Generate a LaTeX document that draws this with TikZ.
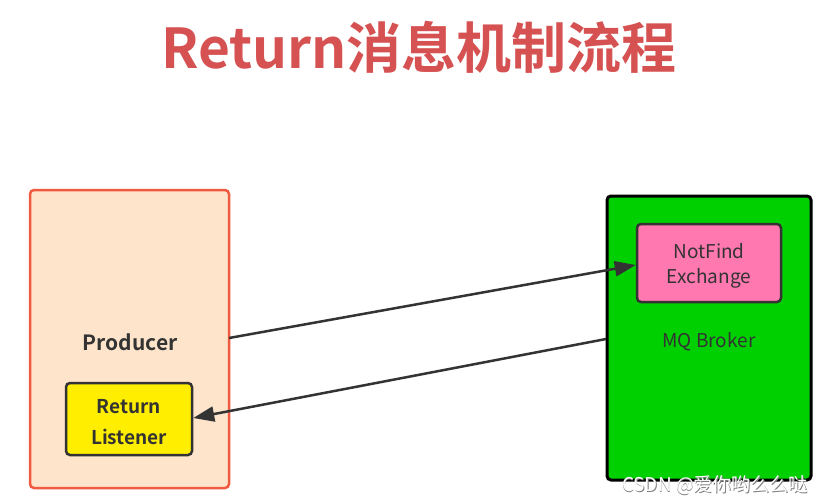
\documentclass[tikz,border=0pt]{standalone}
\usepackage{fontspec}
\setmainfont{Noto Sans CJK SC}
\newfontfamily\cjkbold{Noto Sans CJK SC Bold}
\usetikzlibrary{arrows.meta}
\definecolor{titlered}{HTML}{D65252}
\definecolor{peach}{HTML}{FDE4CA}
\definecolor{peachedge}{HTML}{F05A40}
\definecolor{ylw}{HTML}{FFEE00}
\definecolor{brgreen}{HTML}{00D000}
\definecolor{pinkbox}{HTML}{FF78B0}
\definecolor{darkline}{HTML}{333333}
\tikzset{
  outerbox/.style={draw, rounded corners=4pt, line width=2.5pt},
  innerbox/.style={draw=darkline, rounded corners=4pt, line width=2.5pt},
  lbl/.style={font=\fontsize{19}{24}\selectfont, text=darkline, align=center},
  blbl/.style={font=\cjkbold\fontsize{19}{31}\selectfont, text=darkline, align=center},
  conn/.style={draw=darkline, line width=2.5pt, -{Triangle[length=21pt,width=15pt]}}
}
\begin{document}
\begin{tikzpicture}[x=1pt,y=-1pt]
\useasboundingbox[fill=white] (0,0) rectangle (826,501);
% title
\node[font=\cjkbold\fontsize{55}{58}\selectfont, text=titlered] (title) at (419,47) {Return消息机制流程};
% producer
\node[outerbox, draw=peachedge, fill=peach, minimum width=199pt, minimum height=298pt] (producer) at (129.5,339) {};
\node[font=\cjkbold\fontsize{21}{24}\selectfont, text=darkline] (prodlbl) at (130,342) {Producer};
\node[innerbox, fill=ylw, minimum width=126pt, minimum height=72pt, blbl] (listener) at (129,419) {};
\node[blbl] (listenerlbl) at (129,422) {Return\\Listener};
% broker
\node[outerbox, draw=black, line width=3pt, fill=brgreen, minimum width=204pt, minimum height=284pt] (broker) at (709,338) {};
\node[innerbox, fill=pinkbox, minimum width=144pt, minimum height=78pt] (exchange) at (709,263) {};
\node[lbl, font=\fontsize{19}{25}\selectfont] (exlbl) at (709,266) {NotFind\\Exchange};
\node[lbl, font=\fontsize{19}{24}\selectfont] (mqlbl) at (709,342) {MQ Broker};
% connectors
\coordinate (a1s) at (229,338);
\coordinate (a2s) at (606,339);
\draw[conn] (a1s) -- (exchange.west |- 0,265);
\draw[conn] (a2s) -- (listener.east |- 0,418);
% watermark
\node[font=\fontsize{19}{22}\selectfont, text=gray] (wmshadow) at (715.8,485.8) {CSDN @爱你哟么么哒};
\node[font=\fontsize{19}{22}\selectfont, text=white] (wm) at (715,485) {CSDN @爱你哟么么哒};
\end{tikzpicture}
\end{document}
